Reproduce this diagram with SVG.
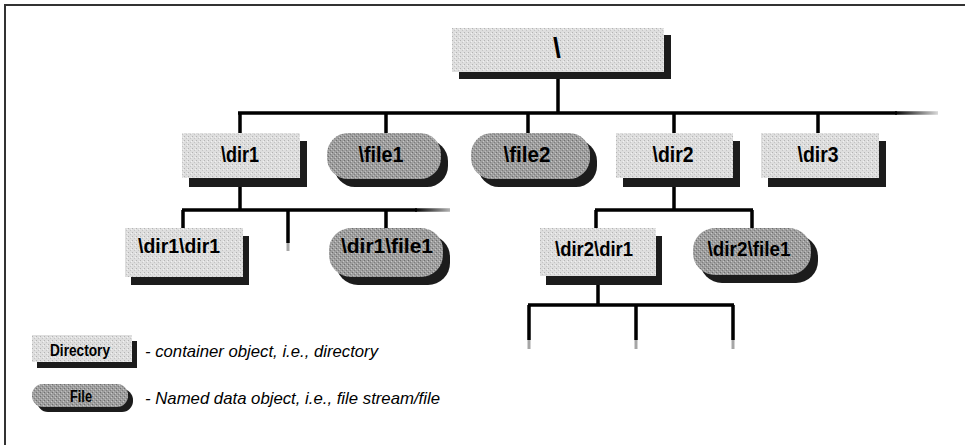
<svg xmlns="http://www.w3.org/2000/svg" width="965" height="445" viewBox="0 0 965 445">
<defs>
<pattern id="dirFill" width="4" height="4" patternUnits="userSpaceOnUse">
<rect width="4" height="4" fill="#dedede"/>
<rect x="0" y="0" width="1" height="1" fill="#b4b4b4"/>
<rect x="2" y="2" width="1" height="1" fill="#c4c4c4"/>
<rect x="3" y="1" width="1" height="1" fill="#f2f2f2"/>
</pattern>
<pattern id="fileFill" width="4" height="4" patternUnits="userSpaceOnUse">
<rect width="4" height="4" fill="#9e9e9e"/>
<rect x="0" y="0" width="1" height="1" fill="#6e6e6e"/>
<rect x="2" y="2" width="1" height="1" fill="#7e7e7e"/>
<rect x="3" y="1" width="1" height="1" fill="#c8c8c8"/>
<rect x="1" y="3" width="1" height="1" fill="#bcbcbc"/>
</pattern>
<linearGradient id="fadeH" gradientUnits="userSpaceOnUse" x1="895" y1="0" x2="938" y2="0">
<stop offset="0" stop-color="#000"/>
<stop offset="1" stop-color="#000" stop-opacity="0.15"/>
</linearGradient>
<linearGradient id="fadeH2" gradientUnits="userSpaceOnUse" x1="415" y1="0" x2="450" y2="0">
<stop offset="0" stop-color="#000"/>
<stop offset="1" stop-color="#000" stop-opacity="0.3"/>
</linearGradient>
</defs>
<style>
.frame{stroke:#333;stroke-width:2;fill:none}
.ln{stroke:#000;stroke-width:3.5;fill:none}
.fade{stroke:#000;stroke-opacity:0.35;stroke-width:3;fill:none}
.dir{fill:url(#dirFill)}
.file{fill:url(#fileFill)}
.sh{fill:#1c1c1c}
.lbl{font-family:"Liberation Sans",Arial,sans-serif;font-weight:bold;fill:#000;text-anchor:middle}
.leg{font-family:"Liberation Sans",Arial,sans-serif;font-style:italic;font-size:17px;fill:#000}
</style>

<path class="frame" d="M5,445 V5 H965"/>

<g id="connectors">
<path class="ln" d="M558,79 V113"/>
<path class="ln" d="M238,113 H897"/>
<path d="M895,113 H938" stroke="url(#fadeH)" stroke-width="3.5" fill="none"/>
<path class="ln" d="M240,113 V133 M386,113 V133 M528,113 V133 M674,113 V133 M818,113 V133"/>
<path class="ln" d="M240,185 V210"/>
<path class="ln" d="M182,210 H417"/>
<path d="M415,210 H450" stroke="url(#fadeH2)" stroke-width="3.5" fill="none"/>
<path class="ln" d="M183,210 V228 M386,210 V228 M288,210 V243"/>
<path class="fade" d="M288,243 V251"/>
<path class="ln" d="M674,185 V210 M595,210 H753 M596,210 V228 M752,210 V228"/>
<path class="ln" d="M598,283 V305 M528,305 H734 M529,305 V340 M636,305 V340 M733,305 V340"/>
<path class="fade" d="M529,340 V349 M636,340 V349 M733,340 V349"/>
</g>

<g id="root">
<rect class="sh" x="459" y="35" width="212" height="44"/>
<rect class="dir" x="452" y="28" width="212" height="44"/>
<text class="lbl" x="557" y="57" font-size="28">\</text>
</g>

<g id="dir1">
<rect class="sh" x="189" y="141" width="118" height="46"/>
<rect class="dir" x="182" y="133" width="118" height="45"/>
<text class="lbl" x="240" y="162" font-size="22" textLength="38" lengthAdjust="spacingAndGlyphs">\dir1</text>
</g>

<g id="file1">
<rect class="sh" x="334" y="140" width="114" height="47" rx="21"/>
<rect class="file" x="327" y="133" width="114" height="46" rx="21"/>
<text class="lbl" x="381" y="162" font-size="22" textLength="45" lengthAdjust="spacingAndGlyphs">\file1</text>
</g>

<g id="file2">
<rect class="sh" x="478" y="140" width="119" height="47" rx="21"/>
<rect class="file" x="471" y="133" width="119" height="46" rx="21"/>
<text class="lbl" x="527" y="162" font-size="22" textLength="47" lengthAdjust="spacingAndGlyphs">\file2</text>
</g>

<g id="dir2">
<rect class="sh" x="623" y="141" width="117" height="46"/>
<rect class="dir" x="616" y="133" width="117" height="45"/>
<text class="lbl" x="673" y="162" font-size="22" textLength="41" lengthAdjust="spacingAndGlyphs">\dir2</text>
</g>

<g id="dir3">
<rect class="sh" x="768" y="141" width="118" height="46"/>
<rect class="dir" x="761" y="133" width="118" height="45"/>
<text class="lbl" x="818" y="162" font-size="22" textLength="41" lengthAdjust="spacingAndGlyphs">\dir3</text>
</g>

<g id="dir1-dir1">
<rect class="sh" x="131" y="236" width="118" height="49"/>
<rect class="dir" x="125" y="228" width="118" height="49"/>
<text class="lbl" x="179" y="253" font-size="21" textLength="82" lengthAdjust="spacingAndGlyphs">\dir1\dir1</text>
</g>

<g id="dir1-file1">
<rect class="sh" x="336" y="235" width="114" height="50" rx="22"/>
<rect class="file" x="329" y="228" width="114" height="49" rx="22"/>
<text class="lbl" x="387" y="253" font-size="21" textLength="92" lengthAdjust="spacingAndGlyphs">\dir1\file1</text>
</g>

<g id="dir2-dir1">
<rect class="sh" x="546" y="236" width="116" height="49"/>
<rect class="dir" x="540" y="228" width="116" height="48"/>
<text class="lbl" x="594" y="256" font-size="21" textLength="78" lengthAdjust="spacingAndGlyphs">\dir2\dir1</text>
</g>

<g id="dir2-file1">
<rect class="sh" x="700" y="235" width="118" height="48" rx="22"/>
<rect class="file" x="693" y="228" width="118" height="47" rx="22"/>
<text class="lbl" x="749" y="256" font-size="21" textLength="83" lengthAdjust="spacingAndGlyphs">\dir2\file1</text>
</g>

<g id="legend-directory">
<rect class="sh" x="37" y="341" width="100" height="27"/>
<rect class="dir" x="32" y="335" width="100" height="27"/>
<text class="lbl" x="80" y="356" font-size="16" textLength="60" lengthAdjust="spacingAndGlyphs">Directory</text>
<text class="leg" x="145" y="357" textLength="233" lengthAdjust="spacingAndGlyphs">- container object, i.e., directory</text>
</g>

<g id="legend-file">
<rect class="sh" x="37" y="389" width="96" height="23" rx="11"/>
<rect class="file" x="32" y="384" width="96" height="23" rx="11"/>
<text class="lbl" x="81" y="402" font-size="16" textLength="22" lengthAdjust="spacingAndGlyphs">File</text>
<text class="leg" x="145" y="404" textLength="295" lengthAdjust="spacingAndGlyphs">- Named data object, i.e., file stream/file</text>
</g>
</svg>
